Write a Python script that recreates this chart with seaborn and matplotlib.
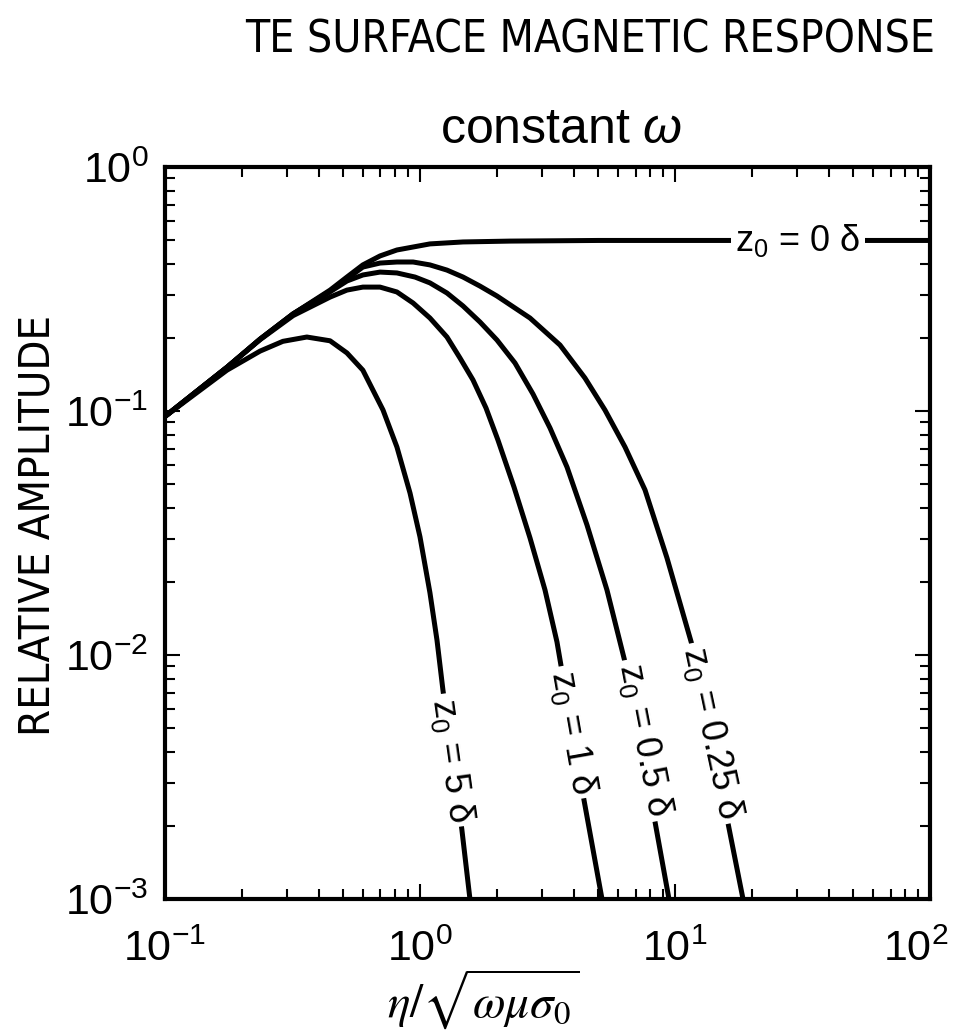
import matplotlib
matplotlib.use("Agg")
import matplotlib.pyplot as plt
import matplotlib.font_manager as fm
import matplotlib.transforms as mtransforms
import numpy as np
import pandas as pd
import seaborn as sns
from matplotlib.ticker import LogLocator, NullFormatter

# ---------------- data ----------------
x_z0_0 = [0.1, 0.175, 0.236, 0.318, 0.444, 0.517, 0.597, 0.697, 0.812, 1.094, 1.475, 2.254, 5.0, 100.0]
y_z0_0 = [0.095, 0.151, 0.197, 0.250, 0.313, 0.354, 0.397, 0.432, 0.457, 0.484, 0.493, 0.497, 0.500, 0.500]

x_z0_025 = [0.1, 0.175, 0.236, 0.318, 0.444, 0.517, 0.597, 0.697, 0.812, 0.940, 1.094, 1.276, 1.475,
            1.719, 2.004, 2.700, 3.540, 4.436, 5.314, 6.367, 7.627, 9.30, 11.66, 16.13, 18.48]
y_z0_025 = [0.095, 0.151, 0.197, 0.250, 0.310, 0.348, 0.389, 0.404, 0.408, 0.408, 0.397, 0.378, 0.354,
            0.325, 0.296, 0.2405, 0.1864, 0.1365, 0.1009, 0.0712, 0.0475, 0.0250, 0.0110, 0.00205, 0.001]

x_z0_05 = [0.1, 0.175, 0.236, 0.318, 0.444, 0.517, 0.597, 0.697, 0.812, 0.956, 1.094, 1.276, 1.475,
           1.719, 2.004, 2.358, 2.774, 3.235, 3.772, 4.518, 5.41, 6.367, 8.35, 9.47]
y_z0_05 = [0.095, 0.151, 0.197, 0.250, 0.308, 0.341, 0.361, 0.371, 0.368, 0.354, 0.335, 0.3045, 0.2694,
           0.2316, 0.1954, 0.1573, 0.1174, 0.0852, 0.0589, 0.0341, 0.01847, 0.00936, 0.00207, 0.001]

x_z0_1 = [0.1, 0.175, 0.236, 0.318, 0.444, 0.517, 0.597, 0.697, 0.812, 0.940, 1.094, 1.276, 1.435,
          1.614, 1.815, 2.022, 2.337, 2.700, 3.092, 3.445, 4.397, 5.173]
y_z0_1 = [0.095, 0.151, 0.196, 0.246, 0.293, 0.313, 0.322, 0.322, 0.3075, 0.277, 0.2405, 0.201, 0.1649,
          0.134, 0.1029, 0.0760, 0.0488, 0.0302, 0.01847, 0.01131, 0.002544, 0.001]

x_z0_5 = [0.1, 0.175, 0.236, 0.290, 0.360, 0.444, 0.517, 0.597, 0.716, 0.812, 0.914, 1.0, 1.094,
          1.166, 1.23, 1.46, 1.57]
y_z0_5 = [0.095, 0.147, 0.176, 0.193, 0.201, 0.194, 0.173, 0.147, 0.101, 0.0712, 0.0461, 0.0305, 0.018,
          0.0115, 0.0072, 0.00192, 0.001]

curve_names = ["z0 = 0", "z0 = 0.25", "z0 = 0.5", "z0 = 1", "z0 = 5"]
curve_x = [x_z0_0, x_z0_025, x_z0_05, x_z0_1, x_z0_5]
curve_y = [y_z0_0, y_z0_025, y_z0_05, y_z0_1, y_z0_5]

label_texts = ["z$_0$ = 0 δ", "z$_0$ = 0.25 δ", "z$_0$ = 0.5 δ", "z$_0$ = 1 δ", "z$_0$ = 5 δ"]
label_x = [30.3, 13.97, 7.62, 3.98, 1.335]
label_y = [0.5, 0.00479, 0.00449, 0.00483, 0.00371]
label_rot = [0, -78, -79, -80, -82]

x_ticks = [0.1, 1, 10, 100]
x_tick_labels = ["$10^{-1}$", "$10^{0}$", "$10^{1}$", "$10^{2}$"]
y_ticks = [0.001, 0.01, 0.1, 1]
y_tick_labels = ["$10^{-3}$", "$10^{-2}$", "$10^{-1}$", "$10^{0}$"]

title_text = "TE SURFACE MAGNETIC RESPONSE"
subtitle_text = "constant $\\omega$"
y_label_text = "RELATIVE AMPLITUDE"
x_label_text = r"$\eta/\sqrt{\omega\mu\sigma_0}$"

# ---------------- style ----------------
sns.set_style("ticks")
plt.rcParams["font.family"] = ["Liberation Sans", "DejaVu Sans"]
plt.rcParams["mathtext.fontset"] = "custom"
plt.rcParams["mathtext.rm"] = "Liberation Sans"
plt.rcParams["mathtext.it"] = "Liberation Sans:italic"
plt.rcParams["mathtext.bf"] = "Liberation Sans:bold"
for k in ["text.color", "axes.labelcolor", "xtick.color", "ytick.color", "axes.edgecolor"]:
    plt.rcParams[k] = "black"

# look for an installed condensed sans face (the reference lettering is narrow)
cond_prop = None
for f in fm.fontManager.ttflist:
    fn = f.fname.lower()
    if ("condensed" in fn or "narrow" in fn) and not any(s in fn for s in ["bold", "italic", "oblique", "light", "thin", "black", "medium", "semi"]):
        if any(n in fn for n in ["liberation", "dejavu", "noto", "roboto", "opensans", "open"]):
            cond_prop = fm.FontProperties(fname=f.fname)
            break
head_prop = cond_prop if cond_prop is not None else fm.FontProperties(family="Liberation Sans")

fig = plt.figure(figsize=(9.58, 10.36), dpi=100)
ax = fig.add_axes([0.1722, 0.1322, 0.7986, 0.7066])
ax.set_xscale("log")
ax.set_yscale("log")

frames = []
for name, xs, ys in zip(curve_names, curve_x, curve_y):
    frames.append(pd.DataFrame({"eta": xs, "amp": ys, "curve": name}))
df = pd.concat(frames, ignore_index=True)

sns.lineplot(data=df, x="eta", y="amp", units="curve", estimator=None, sort=False,
             color="black", linewidth=3.6, ax=ax, legend=False,
             solid_joinstyle="round", solid_capstyle="butt")

ax.set_xlim(0.1, 100)
ax.set_ylim(0.001, 1)

for t, lx, ly, r in zip(label_texts, label_x, label_y, label_rot):
    ax.text(lx, ly, t, rotation=r, rotation_mode="anchor", ha="center", va="center",
            fontsize=26, color="black", zorder=5,
            bbox=dict(facecolor="white", edgecolor="none", pad=3))

for s in ax.spines.values():
    s.set_linewidth(3)
    s.set_color("black")
    s.set_visible(True)

ax.set_xticks(x_ticks)
ax.set_xticklabels(x_tick_labels)
ax.set_yticks(y_ticks)
ax.set_yticklabels(y_tick_labels)
ax.xaxis.set_minor_locator(LogLocator(base=10, subs=np.arange(2, 10)))
ax.yaxis.set_minor_locator(LogLocator(base=10, subs=np.arange(2, 10)))
ax.xaxis.set_minor_formatter(NullFormatter())
ax.yaxis.set_minor_formatter(NullFormatter())
ax.tick_params(which="both", direction="in", top=True, right=True, color="black", width=1.5)
ax.tick_params(which="major", length=11, labelsize=31, pad=12)
ax.tick_params(axis="x", which="major", pad=22)
ax.tick_params(which="minor", length=7)
ax.set_xlabel("")
ax.set_ylabel("")

# keep the last x tick label inside the figure (as in the reference)
last_lab = ax.xaxis.get_major_ticks()[-1].label1
last_lab.set_transform(last_lab.get_transform() +
                       mtransforms.ScaledTranslation(-10 / 72, 0, fig.dpi_scale_trans))

renderer = fig.canvas.get_renderer()

def fit_text(x, y, s, target_px, axis_len="w", **kw):
    t = fig.text(x, y, s, fontproperties=head_prop.copy(), **kw)
    t.set_fontsize(30)
    bb = t.get_window_extent(renderer=renderer)
    cur = bb.width if axis_len == "w" else bb.height
    t.set_fontsize(30 * target_px / cur)
    return t

fit_text(590 / 958, 1 - 40 / 1036, title_text, 690, "w", ha="center", va="center")
fit_text(38 / 958, 1 - 525 / 1036, y_label_text, 420, "h", ha="center", va="center", rotation=90)
fig.text(561 / 958, 1 - 130 / 1036, subtitle_text, ha="center", va="center", fontsize=36)
fig.text(483 / 958, 1 - 1000 / 1036, x_label_text, ha="center", va="center", fontsize=34,
         math_fontfamily="stix")

fig.savefig("out.png", dpi=100)
